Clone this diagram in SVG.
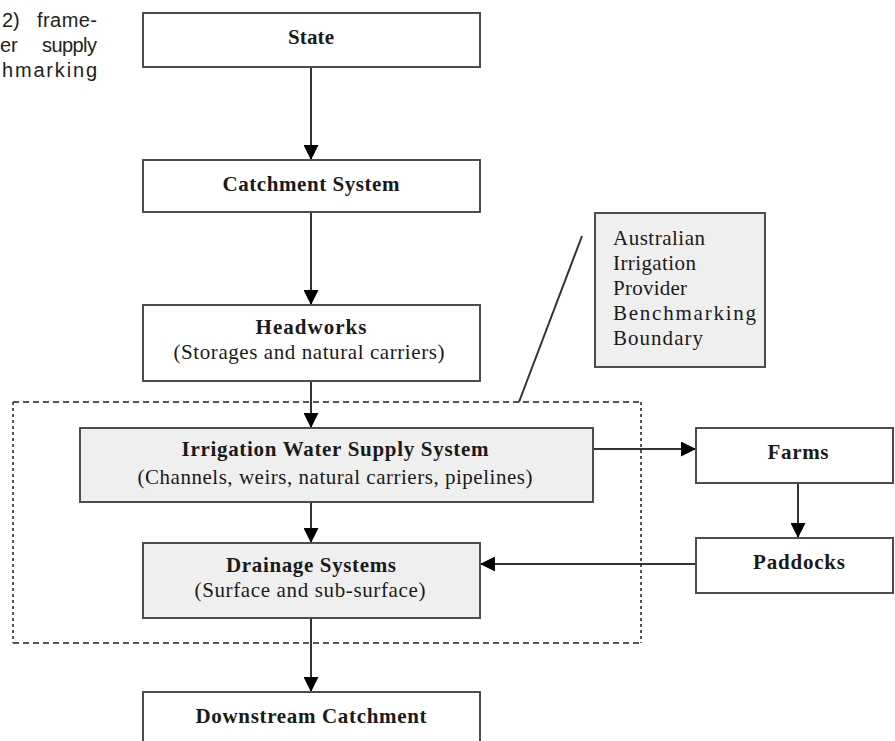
<svg xmlns="http://www.w3.org/2000/svg" width="895" height="741" viewBox="0 0 895 741">
<style>
.box{fill:#ffffff;stroke:#4d4d4d;stroke-width:2}
.gbox{fill:#efefef;stroke:#4d4d4d;stroke-width:2}
.t{font-family:"Liberation Serif","Times New Roman",serif;font-size:21px;fill:#1a1a1a;text-anchor:middle}
.b{font-weight:bold}
.l{font-family:"Liberation Serif","Times New Roman",serif;font-size:21px;fill:#1a1a1a}
.side{font-family:"Liberation Sans",Arial,sans-serif;font-size:20px;fill:#222}
.conn{stroke:#333;stroke-width:2;fill:none}
.dh{stroke:#555;stroke-width:2;stroke-dasharray:6 4;fill:none}
.dv{stroke:#555;stroke-width:2;stroke-dasharray:3 3;fill:none}
</style>
<defs>
<marker id="arr" markerUnits="userSpaceOnUse" markerWidth="16" markerHeight="15" viewBox="0 0 10 10" refX="10" refY="5" orient="auto">
<path d="M0,0 L10,5 L0,10 z" fill="#000"/>
</marker>
</defs>
<rect width="895" height="741" fill="#ffffff"/>
<g id="side-text">
<text class="side" y="27"><tspan x="2">2)</tspan><tspan x="37" textLength="60">frame-</tspan></text>
<text class="side" y="52"><tspan x="0">er</tspan><tspan x="42" textLength="55">supply</tspan></text>
<text class="side" y="77" x="2" textLength="95" lengthAdjust="spacing">hmarking</text>
</g>
<g id="boundary">
<line class="dh" x1="13" y1="402" x2="641" y2="402"/>
<line class="dh" x1="13" y1="643" x2="641" y2="643"/>
<line class="dv" x1="13" y1="402" x2="13" y2="643"/>
<line class="dv" x1="641" y1="402" x2="641" y2="643"/>
<line stroke="#333" stroke-width="2" x1="519" y1="402" x2="582" y2="236"/>
</g>
<g id="connectors">
<line class="conn" x1="311" y1="67" x2="311" y2="160" marker-end="url(#arr)"/>
<line class="conn" x1="311" y1="212" x2="311" y2="305" marker-end="url(#arr)"/>
<line class="conn" x1="311" y1="381" x2="311" y2="428" marker-end="url(#arr)"/>
<line class="conn" x1="311" y1="502" x2="311" y2="543" marker-end="url(#arr)"/>
<line class="conn" x1="311" y1="618" x2="311" y2="692" marker-end="url(#arr)"/>
<line class="conn" x1="593" y1="449" x2="696" y2="449" marker-end="url(#arr)"/>
<line class="conn" x1="798" y1="483" x2="798" y2="538" marker-end="url(#arr)"/>
<line class="conn" x1="696" y1="564" x2="480" y2="564" marker-end="url(#arr)"/>
</g>
<g id="state">
<rect class="box" x="143" y="13" width="337" height="54"/>
<text class="t b" x="311" y="44" textLength="46">State</text>
</g>
<g id="catchment">
<rect class="box" x="143" y="160" width="337" height="52"/>
<text class="t b" x="311" y="191" textLength="177">Catchment System</text>
</g>
<g id="headworks">
<rect class="box" x="143" y="305" width="337" height="76"/>
<text class="t b" x="311" y="334" textLength="111">Headworks</text>
<text class="t" x="309" y="359" textLength="271">(Storages and natural carriers)</text>
</g>
<g id="irrigation">
<rect class="gbox" x="80" y="428" width="513" height="74"/>
<text class="t b" x="335" y="456" textLength="307">Irrigation Water Supply System</text>
<text class="t" x="335" y="484" textLength="395">(Channels, weirs, natural carriers, pipelines)</text>
</g>
<g id="drainage">
<rect class="gbox" x="143" y="543" width="337" height="75"/>
<text class="t b" x="311" y="572" textLength="170">Drainage Systems</text>
<text class="t" x="310" y="597" textLength="231">(Surface and sub-surface)</text>
</g>
<g id="downstream">
<rect class="box" x="143" y="692" width="337" height="60"/>
<text class="t b" x="311" y="723" textLength="231">Downstream Catchment</text>
</g>
<g id="farms">
<rect class="box" x="696" y="428" width="197" height="55"/>
<text class="t b" x="798" y="459" textLength="61">Farms</text>
</g>
<g id="paddocks">
<rect class="box" x="696" y="538" width="197" height="55"/>
<text class="t b" x="799" y="569" textLength="92">Paddocks</text>
</g>
<g id="aipb-boundary">
<rect class="gbox" x="595" y="213" width="170" height="154"/>
<text class="l" x="613" y="245" textLength="92">Australian</text>
<text class="l" x="613" y="270" textLength="83">Irrigation</text>
<text class="l" x="613" y="295" textLength="74">Provider</text>
<text class="l" x="613" y="320" textLength="143">Benchmarking</text>
<text class="l" x="613" y="345" textLength="90">Boundary</text>
</g>
</svg>
